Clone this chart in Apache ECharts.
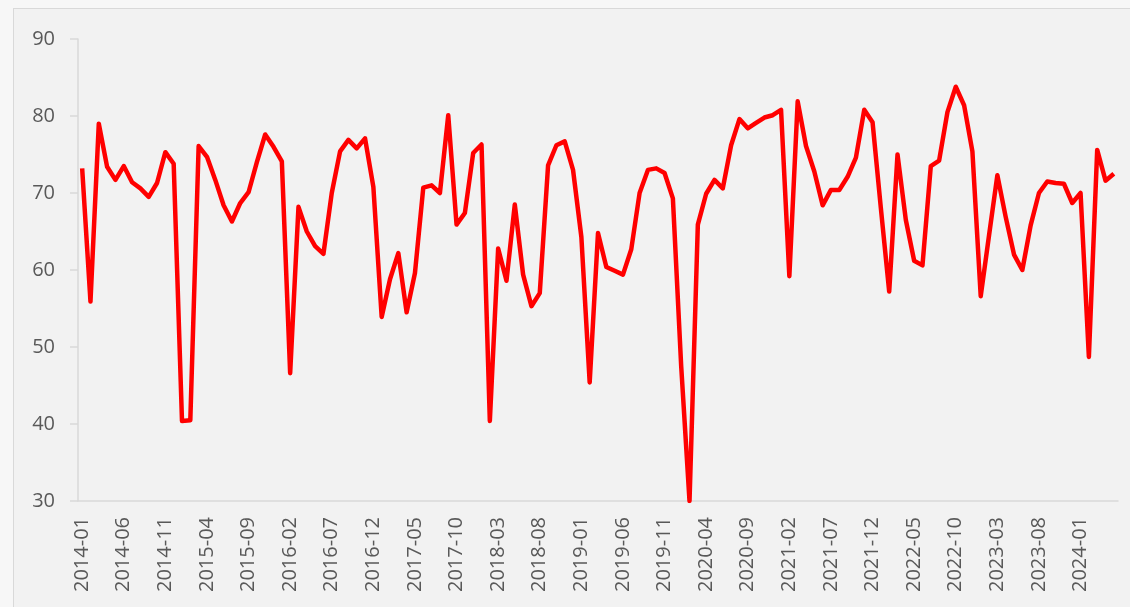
<!DOCTYPE html>
<html>
<head>
<meta charset="utf-8">
<script src="https://cdn.jsdelivr.net/npm/echarts@6/dist/echarts.min.js"></script>
<style>
    html, body {
        margin: 0;
        padding: 0;
        overflow: hidden;
        background: #f7f7f7;
    }
    #container {
        position: absolute;
        left: 13px;
        top: 8px;
        width: 1130px;
        height: 610px;
        background: #f2f2f2;
        border: 1px solid #d9d9d9;
    }
</style>
</head>
<body>
<div id="container"></div>
<script>
// monthly series, 2014-01 .. 2024-05
const startYear = 2014
const monthCount = 125
const yTicks = [30, 40, 50, 60, 70, 80, 90]

const values = [
    73.2, 55.9, 79.0, 73.4, 71.7, 73.5, 71.4, 70.6, 69.5, 71.3, 75.3, 73.8,
    40.4, 40.5, 76.1, 74.7, 71.7, 68.4, 66.3, 68.7, 70.1, 74.0, 77.6, 76.0,
    74.1, 46.6, 68.2, 65.0, 63.1, 62.1, 70.0, 75.4, 76.9, 75.8, 77.1, 70.8,
    53.9, 58.8, 62.2, 54.5, 59.6, 70.7, 71.0, 70.0, 80.1, 65.9, 67.4, 75.2,
    76.3, 40.4, 62.8, 58.6, 68.5, 59.4, 55.3, 57.0, 73.6, 76.2, 76.7, 73.0,
    64.3, 45.4, 64.8, 60.4, 59.9, 59.4, 62.7, 70.0, 73.0, 73.2, 72.6, 69.3,
    47.5, 30.0, 65.9, 69.9, 71.7, 70.6, 76.2, 79.6, 78.4, 79.1, 79.8, 80.1,
    80.8, 59.2, 81.9, 76.1, 72.8, 68.4, 70.4, 70.4, 72.1, 74.6, 80.8, 79.2,
    68.0, 57.2, 75.0, 66.5, 61.2, 60.6, 73.5, 74.2, 80.5, 83.8, 81.4, 75.4,
    56.6, 64.5, 72.3, 66.9, 62.0, 60.0, 65.8, 70.0, 71.5, 71.3, 71.2, 68.7,
    70.0, 48.7, 75.6, 71.6, 72.5
]

const categories = []
for (let i = 0; i < monthCount; i++) {
    let y = startYear + Math.floor(i / 12)
    let m = (i % 12) + 1
    categories.push(y + '-' + (m < 10 ? '0' + m : m))
}

const axisColor = '#d9d9d9'
const textColor = '#595959'

let mychart = echarts.init(document.getElementById('container'))
mychart.setOption({
    backgroundColor: '#f2f2f2',
    animation: false,
    grid: {
        left: 64,
        top: 30,
        width: 1040,
        height: 462
    },
    xAxis: {
        type: 'category',
        data: categories,
        boundaryGap: true,
        axisLine: { lineStyle: { color: axisColor, width: 1.5 } },
        axisTick: {
            interval: 4,
            length: 7,
            lineStyle: { color: axisColor, width: 1.5 }
        },
        axisLabel: {
            interval: 4,
            rotate: 90,
            margin: 16,
            color: textColor,
            fontSize: 20,
            fontFamily: 'Open Sans'
        },
        splitLine: { show: false }
    },
    yAxis: {
        type: 'value',
        min: yTicks[0],
        max: yTicks[yTicks.length - 1],
        interval: 10,
        axisLine: { show: true, lineStyle: { color: axisColor, width: 1.5 } },
        axisTick: {
            show: true,
            length: 8,
            lineStyle: { color: axisColor, width: 1.5 }
        },
        axisLabel: {
            margin: 23,
            color: textColor,
            fontSize: 20,
            fontFamily: 'Open Sans'
        },
        splitLine: { show: false }
    },
    series: [
        {
            type: 'line',
            data: values,
            showSymbol: false,
            symbol: 'none',
            lineStyle: { color: '#ff0000', width: 4.5, join: 'round' }
        }
    ]
})
</script>
</body>
</html>
